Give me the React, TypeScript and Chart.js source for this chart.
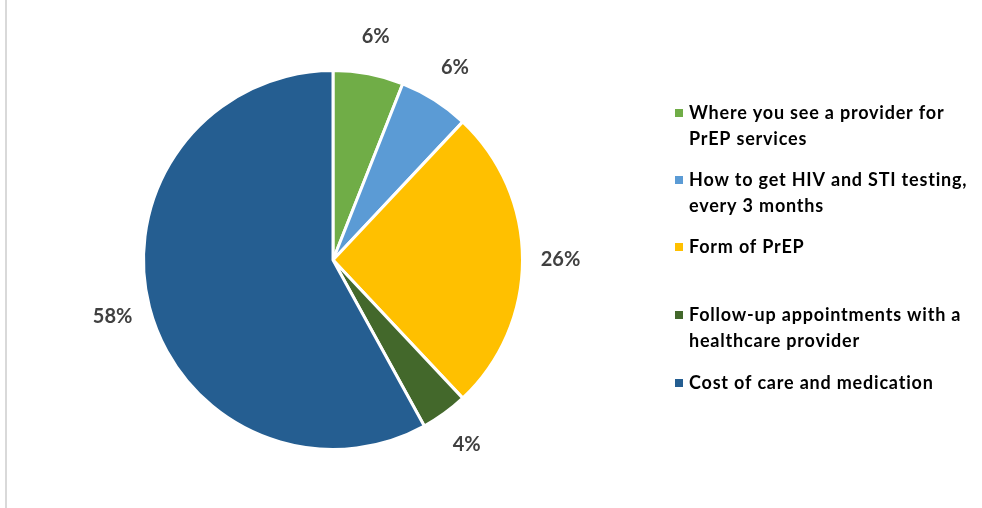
import React, { useEffect, useRef } from "react";
import { Chart, registerables } from "chart.js";

Chart.register(...registerables);

const categories: string[][] = [
  ["Where you see a provider for", "PrEP services"],
  ["How to get HIV and STI testing,", "every 3 months"],
  ["Form of PrEP"],
  ["Follow-up appointments with a", "healthcare provider"],
  ["Cost of care and medication"],
];
const values: number[] = [6, 6, 26, 4, 58];
const valueLabels: string[] = ["6%", "6%", "26%", "4%", "58%"];
const colors: string[] = ["#70AD47", "#5B9BD5", "#FFC000", "#43682B", "#255E91"];
const legendRowY: number[] = [113, 180, 247, 315, 383];

const FONT = "Lato, 'Noto Sans', sans-serif";

export default function App() {
  const ref = useRef<HTMLCanvasElement>(null);

  useEffect(() => {
    if (!ref.current) return;
    const bgPlugin = {
      id: "bg",
      beforeDraw(chart: any) {
        const ctx = chart.ctx;
        ctx.save();
        ctx.fillStyle = "#ffffff";
        ctx.fillRect(0, 0, chart.width, chart.height);
        ctx.fillStyle = "#d9d9d9";
        ctx.fillRect(5, 0, 2, chart.height);
        ctx.restore();
      },
    };
    const labelPlugin = {
      id: "pieLabels",
      afterDatasetsDraw(chart: any) {
        const ctx = chart.ctx;
        const meta = chart.getDatasetMeta(0);
        ctx.save();
        ctx.font = `bold 20px ${FONT}`;
        ctx.fillStyle = "#404040";
        ctx.textAlign = "center";
        ctx.textBaseline = "middle";
        meta.data.forEach((arc: any, i: number) => {
          const p = arc.getProps(["x", "y", "startAngle", "endAngle", "outerRadius"], true);
          const mid = (p.startAngle + p.endAngle) / 2;
          const r = p.outerRadius + 38;
          ctx.fillText(valueLabels[i], p.x + Math.cos(mid) * r, p.y + Math.sin(mid) * r);
        });
        // legend
        ctx.font = `bold 18px ${FONT}`;
        (ctx as any).letterSpacing = "0.8px";
        ctx.textAlign = "left";
        categories.forEach((lines, i) => {
          const y = legendRowY[i];
          ctx.fillStyle = colors[i];
          ctx.fillRect(675, y - 4, 8, 8);
          ctx.fillStyle = "#000000";
          lines.forEach((line, j) => {
            ctx.fillText(line, 689, y + j * 26);
          });
        });
        ctx.restore();
      },
    };
    const chart = new Chart(ref.current, {
      type: "pie",
      data: {
        labels: categories.map((l) => l.join(" ")),
        datasets: [
          {
            data: values,
            backgroundColor: colors,
            borderColor: "#ffffff",
            borderWidth: 3,
          },
        ],
      },
      options: {
        animation: false,
        responsive: false,
        devicePixelRatio: 1,
        layout: { padding: { left: 142, right: 458, top: 69, bottom: 57 } },
        plugins: {
          legend: { display: false },
          title: { display: false },
          tooltip: { enabled: false },
        },
      },
      plugins: [bgPlugin, labelPlugin],
    });
    return () => chart.destroy();
  }, []);

  return (
    <div style={{ position: "absolute", left: 0, top: 0, width: 982, height: 508 }}>
      <canvas ref={ref} width={982} height={508} style={{ width: 982, height: 508 }} />
    </div>
  );
}
